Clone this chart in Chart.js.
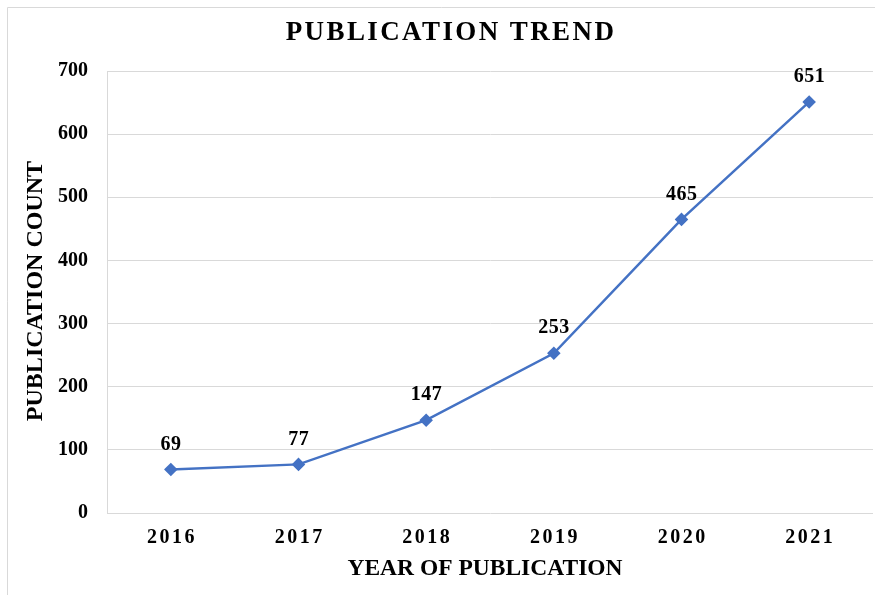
<!DOCTYPE html>
<html>
<head>
<meta charset="utf-8">
<script src="https://cdn.jsdelivr.net/npm/chart.js@4"></script>
<style>
  html, body { margin: 0; padding: 0; background: #fff; }
  #wrap { width: 875px; height: 595px; position: relative; }
</style>
</head>
<body>
<div id="wrap"><canvas id="trend" width="875" height="595"></canvas></div>
<script>
const years = ['2016', '2017', '2018', '2019', '2020', '2021'];
const counts = [69, 77, 147, 253, 465, 651];
const yTicks = [0, 100, 200, 300, 400, 500, 600, 700];

const serif = "'Liberation Serif', 'DejaVu Serif', serif";
const lineBlue = '#4472C4';
const gridGray = '#d9d9d9';

/* frame, title, axis titles, year labels, value labels */
const decor = {
  id: 'decor',
  beforeDraw(chart) {
    const ctx = chart.ctx;
    ctx.save();
    ctx.strokeStyle = gridGray;
    ctx.lineWidth = 1;
    ctx.beginPath();
    ctx.moveTo(7.5, 600);
    ctx.lineTo(7.5, 7.5);
    ctx.lineTo(880, 7.5);
    ctx.stroke();
    ctx.restore();
  },
  afterDatasetsDraw(chart) {
    const ctx = chart.ctx;
    const xScale = chart.scales.x;
    ctx.save();
    ctx.fillStyle = '#000';
    ctx.textAlign = 'center';
    ctx.textBaseline = 'middle';

    ctx.font = 'bold 27px ' + serif;
    ctx.letterSpacing = '2.4px';
    ctx.fillText('PUBLICATION TREND', 451, 33);

    // year labels, spaced out like the original
    ctx.font = 'bold 20px ' + serif;
    ctx.letterSpacing = '2.5px';
    years.forEach((yr, i) => {
      ctx.fillText(yr, xScale.getPixelForTick(i) + 1.2, 538);
    });

    ctx.letterSpacing = '0px';
    ctx.font = 'bold 23.5px ' + serif;
    ctx.fillText('YEAR OF PUBLICATION', 485, 569);

    ctx.save();
    ctx.font = 'bold 24px ' + serif;
    ctx.translate(36, 291);
    ctx.rotate(-Math.PI / 2);
    ctx.fillText('PUBLICATION COUNT', 0, 0);
    ctx.restore();

    ctx.font = 'bold 20px ' + serif;
    ctx.letterSpacing = '0.5px';
    const meta = chart.getDatasetMeta(0);
    meta.data.forEach((pt, i) => {
      ctx.fillText(String(counts[i]), pt.x + 0.25, pt.y - 25);
    });
    ctx.restore();
  }
};

new Chart(document.getElementById('trend'), {
  type: 'line',
  data: {
    labels: years,
    datasets: [{
      data: counts,
      borderColor: lineBlue,
      backgroundColor: lineBlue,
      borderWidth: 2.5,
      pointStyle: 'rectRot',
      pointRadius: 5,
      pointHoverRadius: 5,
      tension: 0
    }]
  },
  options: {
    responsive: false,
    animation: false,
    devicePixelRatio: 1,
    layout: { autoPadding: false, padding: { top: 71, right: 2, left: 0, bottom: 0 } },
    plugins: {
      legend: { display: false },
      title: { display: false },
      tooltip: { enabled: false }
    },
    scales: {
      x: {
        offset: true,
        grid: { display: false, drawTicks: false },
        border: { display: false },
        ticks: { display: false },
        afterFit(scale) { scale.height = 82; }
      },
      y: {
        min: 0,
        max: 700,
        afterBuildTicks(scale) { scale.ticks = yTicks.map(v => ({ value: v })); },
        grid: { color: gridGray, drawTicks: false },
        border: { display: true, color: gridGray },
        ticks: {
          color: '#000',
          padding: 19,
          font: { family: serif, size: 20, weight: 'bold' }
        },
        afterFit(scale) { scale.width = 107; }
      }
    }
  },
  plugins: [decor]
});
</script>
</body>
</html>
